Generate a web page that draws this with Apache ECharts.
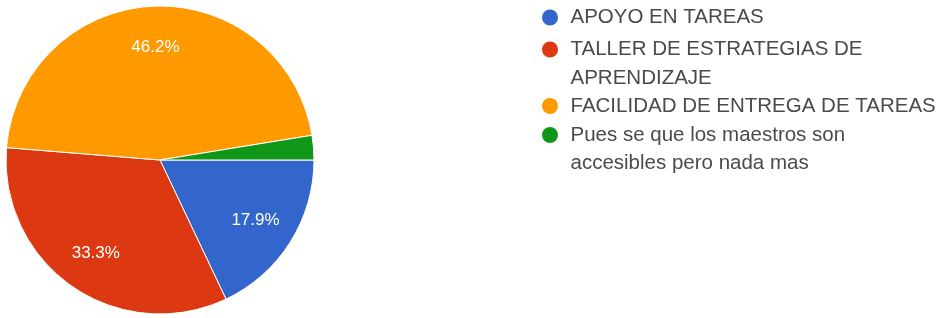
<!DOCTYPE html>
<html>
<head>
<meta charset="utf-8">
<script src="https://cdn.jsdelivr.net/npm/echarts@6/dist/echarts.min.js"></script>
<style>
html,body{margin:0;padding:0;background:#fff;}
#chart{width:940px;height:318px;}
</style>
</head>
<body>
<div id="chart"></div>
<script>
// data (39 answers)
var categories = ['APOYO EN TAREAS', 'TALLER DE ESTRATEGIAS DE APRENDIZAJE', 'FACILIDAD DE ENTREGA DE TAREAS', 'Pues se que los maestros son accesibles pero nada mas'];
var values = [7, 13, 18, 1];
var colors = ['#3366cc', '#dc3912', '#ff9900', '#109618'];
var legendLines = [
    ['APOYO EN TAREAS'],
    ['TALLER DE ESTRATEGIAS DE', 'APRENDIZAJE'],
    ['FACILIDAD DE ENTREGA DE TAREAS'],
    ['Pues se que los maestros son', 'accesibles pero nada mas']
];
var legendRows = [17.5, 49.5, 106, 135];

(function(window){
    var LH = 28.5,
        font = '"Liberation Sans", Arial, sans-serif';

    function buildData(){
        return categories.map(function(name, i){
            return {name: name, value: values[i], itemStyle: {color: colors[i]}};
        });
    }

    //one legend per item; blank lines on top keep the dot on the first text line
    function buildLegends(){
        return categories.map(function(name, i){
            var n = legendLines[i].length,
                pad = [];
            for(var k = 1; k < n; k++){ pad.push('\u00a0'); }
            return {
                data: [name],
                orient: 'vertical',
                left: 540,
                top: legendRows[i] - (2 * n - 1) * LH / 2,
                padding: 0,
                icon: 'circle',
                itemWidth: 31,
                itemHeight: 18,
                symbolKeepAspect: true,
                formatter: function(){ return pad.concat(legendLines[i]).join('\n'); },
                textStyle: {
                    fontSize: 20.5,
                    fontFamily: font,
                    color: '#4a4a4a',
                    lineHeight: LH
                }
            };
        });
    }

    function init(){
        var chart = echarts.init(document.getElementById('chart'), null, {renderer: 'canvas'});
        var option = {
            animation: false,
            legend: buildLegends(),
            series: [
                {
                    name: 'pie',
                    type: 'pie',
                    center: [160, 160],
                    radius: [0, 154],
                    startAngle: 0,
                    clockwise: true,
                    percentPrecision: 1,
                    itemStyle: {borderColor: '#fff', borderWidth: 1},
                    label: {show: false},
                    labelLine: {show: false},
                    emphasis: {disabled: true},
                    data: buildData()
                },
                {
                    //labels only, pushed out to ~0.72 of the radius
                    name: 'labels',
                    type: 'pie',
                    center: [160, 160],
                    radius: [66, 154],
                    startAngle: 0,
                    clockwise: true,
                    percentPrecision: 1,
                    silent: true,
                    itemStyle: {color: 'transparent', borderWidth: 0},
                    label: {
                        show: true,
                        position: 'inside',
                        color: '#fff',
                        fontSize: 17,
                        fontFamily: font,
                        textBorderWidth: 0,
                        formatter: function(p){
                            return p.percent < 5 ? '' : p.percent.toFixed(1) + '%';
                        }
                    },
                    labelLine: {show: false},
                    emphasis: {disabled: true},
                    data: buildData().map(function(d){
                        return {name: d.name, value: d.value};
                    })
                }
            ]
        };
        chart.setOption(option);
    }

    init();
})(window);
</script>
</body>
</html>
